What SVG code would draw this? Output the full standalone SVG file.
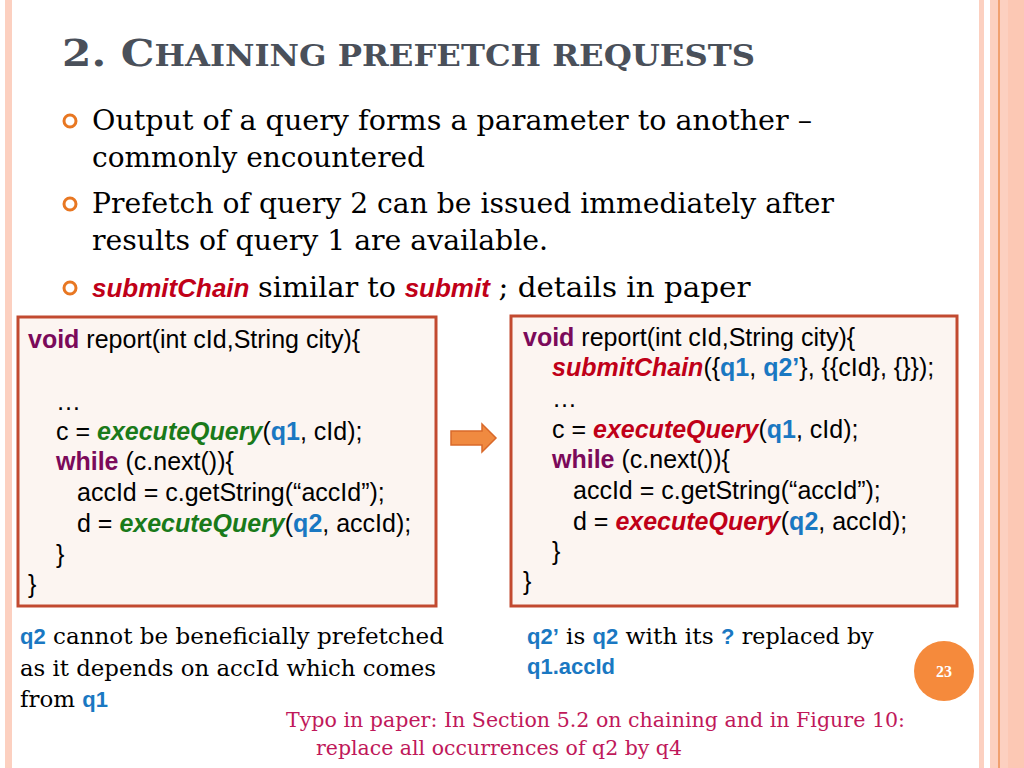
<svg xmlns="http://www.w3.org/2000/svg" width="1024" height="768" viewBox="0 0 1024 768">
<style>
.t{font-family:"DejaVu Serif","Liberation Serif",serif;fill:#000}
.c{font-family:"Liberation Sans",Arial,sans-serif;font-size:25px;fill:#000}
.kw{fill:#7b0a5a;font-weight:bold}
.g{fill:#1a7a1a;font-weight:bold;font-style:italic}
.r{fill:#c00018;font-weight:bold;font-style:italic}
.b{fill:#1a78c2;font-weight:bold}
.s{font-family:"Liberation Sans",Arial,sans-serif}
.box{fill:#fcf5f1;stroke:#c24a30;stroke-width:3}
</style>
<rect width="1024" height="768" fill="#fff"/>
<rect x="5" y="0" width="7" height="768" fill="#fcd0c0"/>
<rect x="979" y="0" width="5" height="768" fill="#fcd0c0"/>
<rect x="990" y="0" width="34" height="768" fill="#fcd0c0"/>
<rect x="998" y="0" width="2" height="768" fill="#f0a070"/>
<rect x="1008" y="0" width="16" height="768" fill="#fcc8b4"/>
<text class="t" x="62" y="66" font-size="38" font-weight="bold" style="fill:#4a505a" textLength="693" lengthAdjust="spacingAndGlyphs">2. C<tspan font-size="29">HAINING PREFETCH REQUESTS</tspan></text>
<g fill="none" stroke="#e87722" stroke-width="3">
<circle cx="70" cy="121" r="6"/><circle cx="70" cy="204" r="6"/><circle cx="70" cy="288" r="6"/>
</g>
<g class="t" font-size="27">
<text class="t" x="92" y="130" textLength="720" lengthAdjust="spacingAndGlyphs">Output of a query forms a parameter to another –</text>
<text class="t" x="92" y="167" textLength="333" lengthAdjust="spacingAndGlyphs">commonly encountered</text>
<text class="t" x="92" y="213" textLength="742" lengthAdjust="spacingAndGlyphs">Prefetch of query 2 can be issued immediately after</text>
<text class="t" x="92" y="250" textLength="456" lengthAdjust="spacingAndGlyphs">results of query 1 are available.</text>
<text class="t" x="92" y="297"><tspan class="r s" font-size="26" style="fill:#c00018">submitChain</tspan> <tspan textLength="138" lengthAdjust="spacingAndGlyphs">similar to</tspan> <tspan class="r s" font-size="26" style="fill:#c00018">submit</tspan> <tspan textLength="252" lengthAdjust="spacingAndGlyphs">; details in paper</tspan></text>
</g>
<g id="left">
<rect class="box" x="18" y="317" width="418" height="289"/>
<text class="c"><tspan x="28" y="348"><tspan class="kw">void</tspan> report(int cId,String city){</tspan>
<tspan x="56" y="410">…</tspan>
<tspan x="56" y="440">c = <tspan class="g">executeQuery</tspan>(<tspan class="b">q1</tspan>, cId);</tspan>
<tspan x="56" y="470"><tspan class="kw">while</tspan> (c.next()){</tspan>
<tspan x="77" y="501">accId = c.getString(“accId”);</tspan>
<tspan x="77" y="532">d = <tspan class="g">executeQuery</tspan>(<tspan class="b">q2</tspan>, accId);</tspan>
<tspan x="56" y="563">}</tspan>
<tspan x="28" y="593">}</tspan></text>
</g>
<g id="arrow"><path d="M451,431 H482 V424 L496,438 L482,452 V445 H451 Z" fill="#f08a40" stroke="#d9692a" stroke-width="1.5"/></g>
<g id="right">
<rect class="box" x="511" y="316" width="446" height="290"/>
<text class="c"><tspan x="523" y="346"><tspan class="kw">void</tspan> report(int cId,String city){</tspan>
<tspan x="552" y="376"><tspan class="r">submitChain</tspan>({<tspan class="b">q1</tspan>, <tspan class="b">q2’</tspan>}, {{cId}, {}});</tspan>
<tspan x="552" y="407">…</tspan>
<tspan x="552" y="438">c = <tspan class="r">executeQuery</tspan>(<tspan class="b">q1</tspan>, cId);</tspan>
<tspan x="552" y="468"><tspan class="kw">while</tspan> (c.next()){</tspan>
<tspan x="573" y="499">accId = c.getString(“accId”);</tspan>
<tspan x="573" y="530">d = <tspan class="r">executeQuery</tspan>(<tspan class="b">q2</tspan>, accId);</tspan>
<tspan x="552" y="560">}</tspan>
<tspan x="523" y="590">}</tspan></text>
</g>
<g font-size="23">
<text class="t" x="20" y="644"><tspan class="b s" font-size="22">q2</tspan> <tspan textLength="391" lengthAdjust="spacingAndGlyphs">cannot be beneficially prefetched</tspan></text>
<text class="t" x="20" y="676" textLength="416" lengthAdjust="spacingAndGlyphs">as it depends on accId which comes</text>
<text class="t" x="20" y="707"><tspan textLength="55" lengthAdjust="spacingAndGlyphs">from</tspan> <tspan class="b s" font-size="22">q1</tspan></text>
<text class="t" x="527" y="644"><tspan class="b s" font-size="22">q2’</tspan> <tspan>is</tspan> <tspan class="b s" font-size="22">q2</tspan> <tspan textLength="88" lengthAdjust="spacingAndGlyphs">with its</tspan> <tspan class="b s" font-size="22">?</tspan> <tspan textLength="132" lengthAdjust="spacingAndGlyphs">replaced by</tspan></text>
<text x="527" y="674" class="b s" font-size="22">q1.accId</text>
</g>
<circle cx="944" cy="671" r="30" fill="#f58a3c"/>
<text x="944" y="677" text-anchor="middle" font-family="Liberation Serif,serif" font-size="16" font-weight="bold" fill="#fff">23</text>
<g font-family="DejaVu Serif,Liberation Serif,serif" font-size="20" fill="#c0185a">
<text x="286" y="727" textLength="619" lengthAdjust="spacingAndGlyphs">Typo in paper: In Section 5.2 on chaining and in Figure 10:</text>
<text x="316" y="755" textLength="366" lengthAdjust="spacingAndGlyphs">replace all occurrences of  q2 by q4</text>
</g>
</svg>
